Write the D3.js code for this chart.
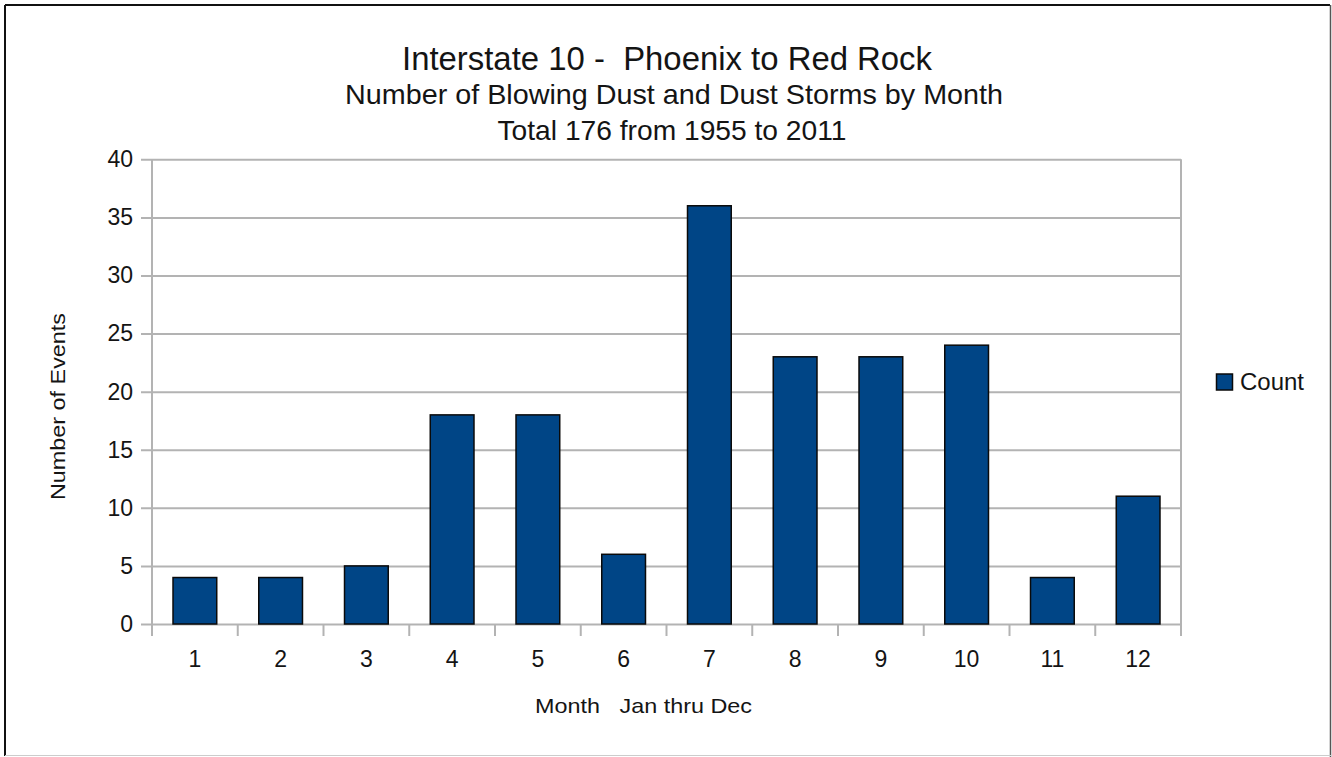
<!DOCTYPE html>
<html>
<head>
<meta charset="utf-8">
<script src="https://cdn.jsdelivr.net/npm/d3@7/dist/d3.min.js"></script>
<style>
  html, body { margin: 0; padding: 0; background: #fff; }
  svg { display: block; }
  text { font-family: "Liberation Sans", Arial, sans-serif; fill: #141414; white-space: pre; }
</style>
</head>
<body>
<svg id="chart" width="1332" height="757"></svg>
<script>
// Blowing dust / dust storm events on I-10, Phoenix to Red Rock, 1955-2011
const months = ["1", "2", "3", "4", "5", "6", "7", "8", "9", "10", "11", "12"];
const counts = [4, 4, 5, 18, 18, 6, 36, 23, 23, 24, 4, 11];
const yTicks = [0, 5, 10, 15, 20, 25, 30, 35, 40];
const seriesName = "Count";
const titleLines = [
  "Interstate 10 -  Phoenix to Red Rock",
  "Number of Blowing Dust and Dust Storms by Month",
  "Total 176 from 1955 to 2011"
];
const xTitle = "Month   Jan thru Dec";
const yTitle = "Number of Events";

const svg = d3.select("#chart");
const W = 1332, H = 757;
const plot = { left: 152, right: 1181, top: 159.3, bottom: 624 };
const barColor = "#004586";
const gridColor = "#b3b3b3";
const fontFamily = "'Liberation Sans', Arial, sans-serif";

// outer frame
svg.append("rect").attr("x", 0).attr("y", 0).attr("width", W).attr("height", H).attr("fill", "#fff");
svg.append("line").attr("x1", 5).attr("x2", 1330).attr("y1", 5).attr("y2", 5).attr("stroke", "#111").attr("stroke-width", 2);
svg.append("line").attr("x1", 5).attr("x2", 5).attr("y1", 5).attr("y2", 756).attr("stroke", "#111").attr("stroke-width", 2);
svg.append("line").attr("x1", 1330.5).attr("x2", 1330.5).attr("y1", 5).attr("y2", 757).attr("stroke", "#555").attr("stroke-width", 1.5);
svg.append("line").attr("x1", 5).attr("x2", 1331).attr("y1", 755.5).attr("y2", 755.5).attr("stroke", "#ccc").attr("stroke-width", 1);

const x = d3.scaleBand().domain(months).range([plot.left, plot.right]).paddingInner(0.49).paddingOuter(0.245);
const xBounds = d3.scaleLinear().domain([0, months.length]).range([plot.left, plot.right]);
const y = d3.scaleLinear().domain([0, 40]).range([plot.bottom, plot.top]);

// horizontal grid lines with left tick marks
const yAxis = d3.axisLeft(y).tickValues(yTicks).tickSize(-(plot.right - plot.left)).tickSizeOuter(0).tickPadding(20);
const gy = svg.append("g").attr("transform", `translate(${plot.left},0)`).call(yAxis);
gy.select(".domain").remove();
gy.selectAll(".tick line").attr("stroke", gridColor).attr("stroke-width", 2).attr("x1", -11);
gy.selectAll(".tick text").attr("font-size", 23).attr("fill", "#141414").attr("x", -19)
  .style("font-family", fontFamily);

// vertical axis line and right border of plot
svg.append("line").attr("x1", plot.left).attr("x2", plot.left).attr("y1", plot.top).attr("y2", plot.bottom + 12)
  .attr("stroke", gridColor).attr("stroke-width", 2);
svg.append("line").attr("x1", plot.right).attr("x2", plot.right).attr("y1", plot.top).attr("y2", plot.bottom + 12)
  .attr("stroke", gridColor).attr("stroke-width", 2);

// category boundary ticks below the baseline
svg.append("g").selectAll("line").data(d3.range(1, months.length)).join("line")
  .attr("x1", d => xBounds(d)).attr("x2", d => xBounds(d))
  .attr("y1", plot.bottom).attr("y2", plot.bottom + 12)
  .attr("stroke", gridColor).attr("stroke-width", 2);

// bars
svg.append("g").selectAll("rect").data(counts).join("rect")
  .attr("x", (d, i) => x(months[i]))
  .attr("y", d => y(d))
  .attr("width", x.bandwidth())
  .attr("height", d => y(0) - y(d))
  .attr("fill", barColor)
  .attr("stroke", "#0a0a0a")
  .attr("stroke-width", 1.5);

// x tick labels
svg.append("g").selectAll("text").data(months).join("text")
  .attr("x", d => x(d) + x.bandwidth() / 2)
  .attr("y", 667)
  .attr("text-anchor", "middle")
  .attr("font-size", 23)
  .text(d => d);

// titles
const titleX = [667, 674, 672];
const titleY = [70, 104, 140];
const titleSize = [33, 28, 28];
const titleWidth = [530, 658, 349];
svg.append("g").selectAll("text").data(titleLines).join("text")
  .attr("x", (d, i) => titleX[i])
  .attr("y", (d, i) => titleY[i])
  .attr("text-anchor", "middle")
  .attr("font-size", (d, i) => titleSize[i])
  .attr("textLength", (d, i) => titleWidth[i])
  .attr("lengthAdjust", "spacingAndGlyphs")
  .text(d => d);

// axis titles
svg.append("text").attr("x", 643.5).attr("y", 713).attr("text-anchor", "middle")
  .attr("font-size", 21).attr("textLength", 217).attr("lengthAdjust", "spacingAndGlyphs").text(xTitle);
svg.append("text").attr("transform", "translate(65,406.5) rotate(-90)").attr("text-anchor", "middle")
  .attr("font-size", 21).attr("textLength", 187).attr("lengthAdjust", "spacingAndGlyphs").text(yTitle);

// legend
const lg = svg.append("g");
lg.append("rect").attr("x", 1216.5).attr("y", 374).attr("width", 16).attr("height", 16)
  .attr("fill", barColor).attr("stroke", "#0a0a0a").attr("stroke-width", 1.5);
lg.append("text").attr("x", 1240).attr("y", 390).attr("font-size", 23.5)
  .attr("textLength", 64).attr("lengthAdjust", "spacingAndGlyphs").text(seriesName);
</script>
</body>
</html>
